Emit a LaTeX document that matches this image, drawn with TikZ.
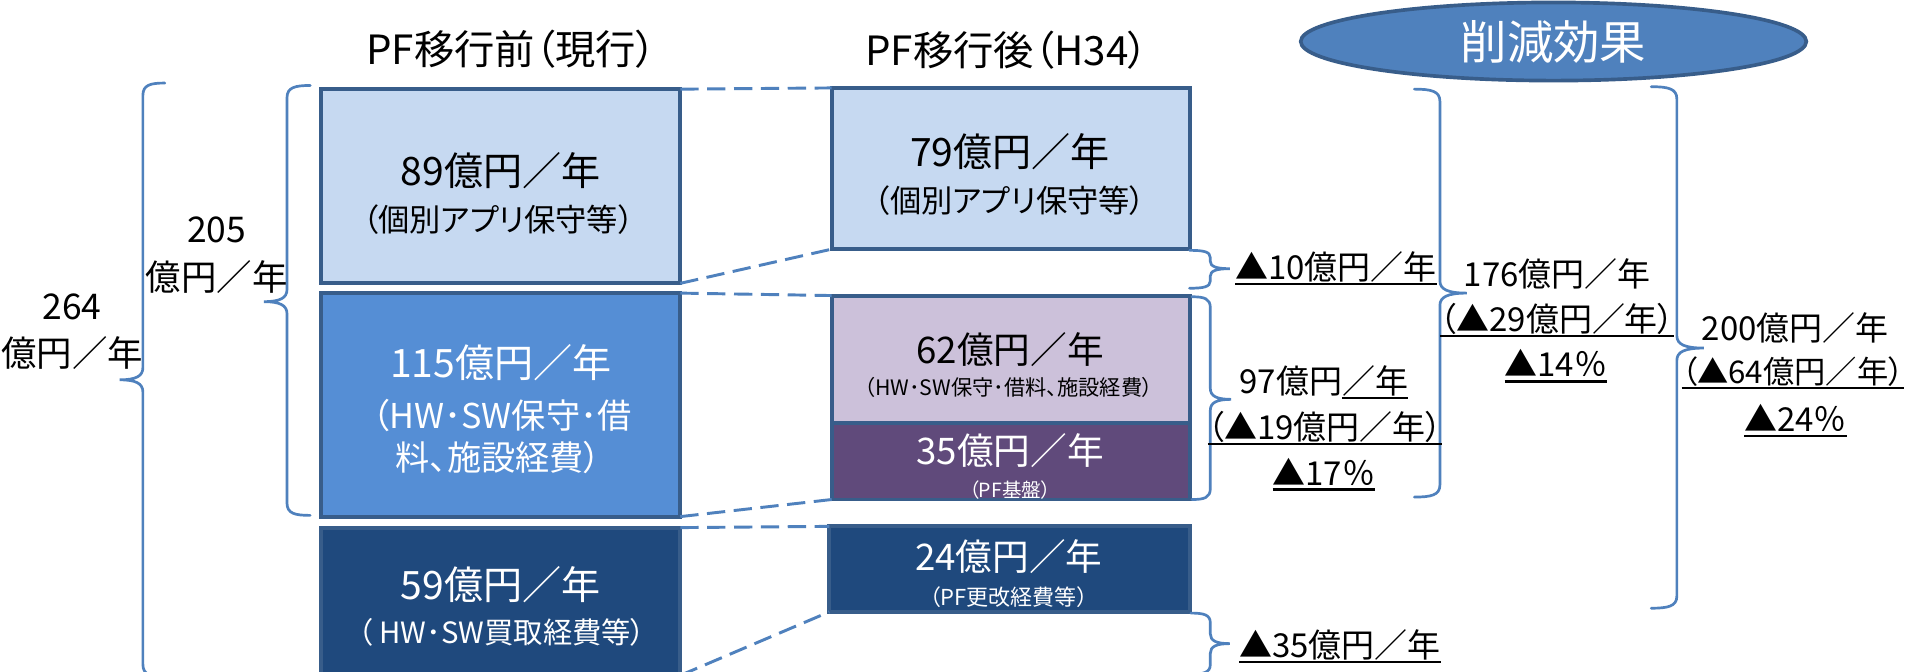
\documentclass[tikz,border=0pt]{standalone}
\usepackage{fontspec}
\setmainfont{Noto Sans CJK JP}[RawFeature=+palt]
\usetikzlibrary{shapes.geometric}
\definecolor{lb}{HTML}{C6D9F1}
\definecolor{mb}{HTML}{558ED5}
\definecolor{db}{HTML}{1F497D}
\definecolor{bd}{HTML}{385D8A}
\definecolor{acc}{HTML}{4F81BD}
\definecolor{lp}{HTML}{CCC1DA}
\definecolor{dp}{HTML}{604A7B}
\newcommand{\fsz}[1]{\fontsize{#1}{#1}\selectfont}
\newcommand{\ulx}[1]{\setbox0\hbox{#1}\leavevmode\rlap{\smash{\vrule width\wd0 height -1.4pt depth 2.4pt}}\box0}
\newcommand{\Brace}[7]{%
 \draw[brc] ({#1+(#5)},#2) .. controls ({#1+0.35*(#5)},#2) and (#1,{#2+0.15*(#7)}) .. (#1,{#2+(#7)})
  -- (#1,{#3-(#7)}) .. controls (#1,{#3-0.3*(#7)}) and ({#1+0.3*(#6)},#3) .. ({#1+(#6)},#3)
  .. controls ({#1+0.3*(#6)},#3) and (#1,{#3+0.3*(#7)}) .. (#1,{#3+(#7)})
  -- (#1,{#4-(#7)}) .. controls (#1,{#4-0.15*(#7)}) and ({#1+0.35*(#5)},#4) .. ({#1+(#5)},#4);}
\begin{document}
\begin{tikzpicture}[x=0.5pt,y=-0.5pt,
  box/.style={draw=bd, line width=1.6pt, inner sep=0pt, outer sep=0pt},
  dsh/.style={draw=acc, line width=1.2pt, dash pattern=on 7.5pt off 3.5pt},
  brc/.style={draw=acc, line width=1.1pt, line cap=round},
  txt/.style={inner sep=0pt, align=center},
  wt/.style={txt, text=white},
]
\useasboundingbox (0,0) rectangle (1568,550);
\fill[white] (0,0) rectangle (1568,550);

% titles
\node[txt, font=\fsz{16.5}] (t1) at (418.5,40) {PF移行前（現行）};
\node[txt, font=\fsz{16.5}] (t2) at (824.5,41) {PF移行後（H34）};
\node[ellipse, draw=bd, line width=1.5pt, fill=acc, minimum width=207pt, minimum height=32pt, inner sep=0pt, text=white, font=\fsz{19}] (eff) at (1272,34) {削減効果};

% boxes before
\node[box, fill=lb, minimum width=147pt, minimum height=79.5pt] (b1) at (410,152.5) {};
\node[box, fill=mb, minimum width=147pt, minimum height=91.5pt] (b2) at (410,331.5) {};
\node[box, fill=db, minimum width=147pt, minimum height=60.5pt] (b3) at (410,492.5) {};
% boxes after
\node[box, fill=lb, minimum width=146.5pt, minimum height=66pt] (b4) at (827.5,138) {};
\node[box, fill=lp, minimum width=146.5pt, minimum height=52pt] (b5) at (827.5,294) {};
\node[box, fill=dp, minimum width=146.5pt, minimum height=31.5pt] (b6) at (827.5,377.5) {};
\node[box, fill=db, minimum width=147.5pt, minimum height=35pt] (b7) at (826.5,466) {};

% dashed connectors
\draw[dsh] (b1.north east) -- (b4.north west);
\draw[dsh] (b1.south east) -- (b4.south west);
\draw[dsh] (b2.north east) -- (b5.north west);
\draw[dsh] (b2.south east) -- (b6.south west);
\draw[dsh] (b3.north east) -- (b7.north west);
\draw[dsh] (b3.south east) -- (b7.south west);

% box texts
\node[txt, font=\fsz{16}] (b1a) at (410,140) {89億円／年};
\node[txt, font=\fsz{12.8}] (b1b) at (408,180) {（個別アプリ保守等）};
\node[wt, font=\fsz{16}] (b2a) at (410,297) {115億円／年};
\node[wt, font=\fsz{14}] (b2b) at (411,340) {（HW･SW保守･借};
\node[wt, font=\fsz{14}] (b2c) at (408,375) {料、施設経費）};
\node[wt, font=\fsz{16}] (b3a) at (410,479) {59億円／年};
\node[wt, font=\fsz{12}] (b3b) at (411,517.5) {（ HW･SW買取経費等）};
\node[txt, font=\fsz{16}] (b4a) at (827,124) {79億円／年};
\node[txt, font=\fsz{12.8}] (b4b) at (827,164) {（個別アプリ保守等）};
\node[txt, font=\fsz{15}] (b5a) at (827,286) {62億円／年};
\node[txt, font=\fsz{8.7}] (b5b) at (826,317) {（HW･SW保守･借料、施設経費）};
\node[wt, font=\fsz{15}] (b6a) at (827,369) {35億円／年};
\node[wt, font=\fsz{8}] (b6b) at (827,401) {（PF基盤）};
\node[wt, font=\fsz{15}] (b7a) at (826,456) {24億円／年};
\node[wt, font=\fsz{9}] (b7b) at (826,489) {（PF更改経費等）};

% braces
\Brace{117}{68}{311}{554}{18}{-19}{10}
\Brace{235}{70}{247}{422}{19}{-19}{10}
\Brace{991}{205}{220}{236}{-17}{16}{6}
\Brace{991}{243}{327}{409}{-15}{17}{9}
\Brace{991}{502}{527}{552}{-16}{16}{8}
\Brace{1179}{73}{240}{407}{-21}{22}{10}
\Brace{1373}{71}{285}{498}{-21}{22}{10}

% left labels
\node[txt, font=\fsz{14.5}] (l264a) at (59,251) {264};
\node[txt, font=\fsz{14.5}] (l264b) at (59,289) {億円／年};
\node[txt, font=\fsz{14.5}] (l205a) at (177.5,188) {205};
\node[txt, font=\fsz{14.5}] (l205b) at (177.5,227) {億円／年};

% right labels
\node[txt, font=\fsz{13.5}] (r10) at (1094,218.5) {\ulx{▲10億円／年}};
\node[txt, font=\fsz{13.5}] (r176a) at (1275,224) {176億円／年};
\node[txt, font=\fsz{13.5}] (r176b) at (1275,261) {\ulx{（▲29億円／年）}};
\node[txt, font=\fsz{13.5}] (r176c) at (1274,297.5) {\ulx{▲14％}};
\node[txt, font=\fsz{13.5}] (r97a) at (1084,312) {97億円\ulx{／年}};
\node[txt, font=\fsz{13.5}] (r97b) at (1085,349.5) {\ulx{（▲19億円／年）}};
\node[txt, font=\fsz{13.5}] (r97c) at (1084,386) {\ulx{▲17％}};
\node[txt, font=\fsz{13.5}] (r200a) at (1470,268.5) {200億円／年};
\node[txt, font=\fsz{12.8}] (r200b) at (1468,304) {\ulx{（▲64億円／年）}};
\node[txt, font=\fsz{13.5}] (r200c) at (1470,342) {\ulx{▲24％}};
\node[txt, font=\fsz{13.5}] (r35) at (1097,528) {\ulx{▲35億円／年}};
\end{tikzpicture}
\end{document}
